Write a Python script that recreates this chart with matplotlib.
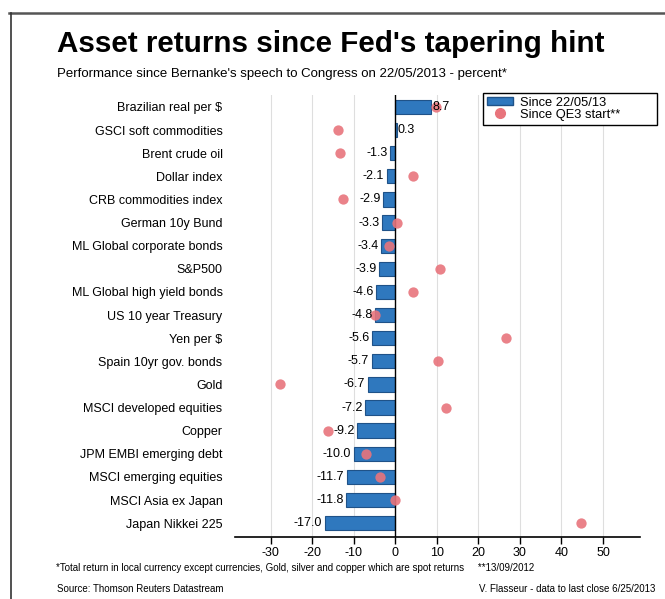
import numpy as np
import matplotlib.pyplot as plt
from matplotlib.lines import Line2D
from matplotlib.patches import Patch

plt.rcParams['font.family'] = ['Liberation Sans', 'DejaVu Sans']

assets = ["Brazilian real per $", "GSCI soft commodities", "Brent crude oil",
          "Dollar index", "CRB commodities index", "German 10y Bund",
          "ML Global corporate bonds", "S&P500", "ML Global high yield bonds",
          "US 10 year Treasury", "Yen per $", "Spain 10yr gov. bonds", "Gold",
          "MSCI developed equities", "Copper", "JPM EMBI emerging debt",
          "MSCI emerging equities", "MSCI Asia ex Japan", "Japan Nikkei 225"]
since_taper = [8.7, 0.3, -1.3, -2.1, -2.9, -3.3, -3.4, -3.9, -4.6, -4.8,
               -5.6, -5.7, -6.7, -7.2, -9.2, -10.0, -11.7, -11.8, -17.0]
since_qe3 = [9.9, -13.8, -13.4, 4.2, -12.5, 0.4, -1.6, 10.7, 4.2, -4.8,
             26.6, 10.3, -27.8, 12.2, -16.3, -7.1, -3.6, 0.0, 44.7]
xticks = [-30, -20, -10, 0, 10, 20, 30, 40, 50]

bar_col = '#2f78be'
dot_col = '#e8747c'

fig = plt.figure(figsize=(6.65, 5.99), dpi=100)
ax = fig.add_axes([0.3534, 0.1035, 0.609, 0.738])

y = np.arange(len(assets))
for gx in xticks:
    if gx != 0:
        ax.axvline(gx, color='#dedede', lw=0.8, zorder=0)
ax.barh(y, since_taper, height=0.62, color=bar_col, edgecolor='#1f5288', lw=0.8, zorder=2)
ax.axvline(0, color='black', lw=1.0, zorder=3)
ax.scatter(since_qe3, y, s=55, color=dot_col, alpha=0.9, lw=0, zorder=4)

for yi, v in zip(y, since_taper):
    if v >= 0:
        ax.text(v + 0.3, yi, f"{v:.1f}", ha='left', va='center', fontsize=9, zorder=5)
    else:
        ax.text(v - 0.6, yi, f"{v:.1f}", ha='right', va='center', fontsize=9, zorder=5)

ax.set_xlim(-38.6, 58.9)
ax.set_ylim(len(assets) - 0.4, -0.52)
ax.set_xticks(xticks)
ax.set_xticklabels([str(t) for t in xticks], fontsize=9)
ax.set_yticks(y)
ax.set_yticklabels(assets, fontsize=9)
ax.tick_params(axis='y', length=0, pad=9)
ax.tick_params(axis='x', length=5, width=1, pad=2)
for s in ['top', 'right', 'left']:
    ax.spines[s].set_visible(False)
ax.spines['bottom'].set_linewidth(1.2)

handles = [Patch(facecolor=bar_col, edgecolor='#1f5288'),
           Line2D([], [], marker='o', ls='', color=dot_col, markersize=7)]
leg = fig.legend(handles, ["Since 22/05/13", "Since QE3 start**         "],
                 loc='upper right', bbox_to_anchor=(0.988, 0.845), fontsize=9.3,
                 frameon=True, fancybox=False, edgecolor='black', framealpha=1,
                 borderpad=0.3, labelspacing=0.0, handlelength=2.0, handleheight=0.55,
                 handletextpad=0.6, borderaxespad=0)
leg.get_frame().set_linewidth(1.0)

fig.text(0.086, 0.926, "Asset returns since Fed's tapering hint", fontsize=21.3,
         fontweight='bold', va='center', ha='left')
fig.text(0.086, 0.876, "Performance since Bernanke's speech to Congress on 22/05/2013 - percent*",
         fontsize=9.5, va='center', ha='left')
fig.text(0.084, 0.052, "*Total return in local currency except currencies, Gold, silver and copper "
         "which are spot returns     **13/09/2012", fontsize=7, va='center', ha='left')
fig.text(0.086, 0.016, "Source: Thomson Reuters Datastream", fontsize=7, va='center', ha='left')
fig.text(0.985, 0.016, "V. Flasseur - data to last close 6/25/2013", fontsize=7,
         va='center', ha='right')

# frame lines (top and left)
fig.add_artist(Line2D([0.014, 1.0], [0.978, 0.978], color='#555555', lw=1.8))
fig.add_artist(Line2D([0.017, 0.017], [0.0, 0.978], color='#333333', lw=1.2))

fig.savefig("out.png", dpi=100)
